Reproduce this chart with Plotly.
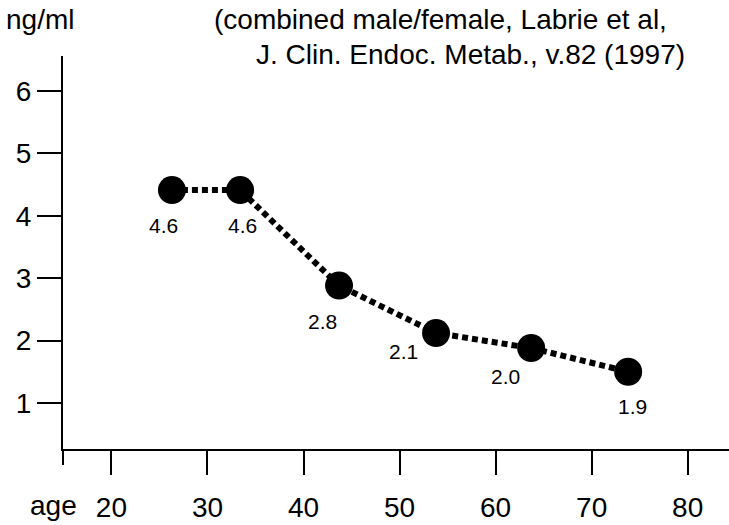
import plotly.graph_objects as go

# ---- data ----
ages = [26.3, 33.4, 43.7, 53.8, 63.7, 73.8]
levels = [4.41, 4.41, 2.88, 2.12, 1.88, 1.50]
level_labels = ["4.6", "4.6", "2.8", "2.1", "2.0", "1.9"]
x_ticks = [20, 30, 40, 50, 60, 70, 80]
y_ticks = [1, 2, 3, 4, 5, 6]
title_lines = ["(combined male/female, Labrie et al,", "J. Clin. Endoc. Metab., v.82 (1997)"]
y_unit = "ng/ml"
x_unit = "age"

# ---- styling / layout ----
FONT = "Liberation Sans, Arial, Helvetica, sans-serif"
W, H = 729, 525
L, R, T, B = 63, 0, 56, 76
PW, PH = W - L - R, H - T - B

def px_x(p):
    return (p - L) / PW

def px_y(p):
    return (H - B - p) / PH

label_offsets = [(-8, -35), (2, -35), (-17, -36), (-33, -18), (-26, -28), (4, -35)]

fig = go.Figure()
fig.add_trace(go.Scatter(
    x=ages, y=levels, mode="lines+markers",
    line=dict(color="black", width=6, dash="6px,4px"),
    marker=dict(color="black", size=28),
    hoverinfo="skip", showlegend=False,
))

annotations = []
for xa, ya, t, (dx, dy) in zip(ages, levels, level_labels, label_offsets):
    annotations.append(dict(x=xa, y=ya, xref="x", yref="y", text=t, showarrow=False,
                            xshift=dx, yshift=dy, xanchor="center", yanchor="middle",
                            font=dict(family=FONT, size=21, color="black")))

annotations.append(dict(x=px_x(4), y=px_y(19), xref="paper", yref="paper", text=y_unit,
                        showarrow=False, xanchor="left", yanchor="middle",
                        font=dict(family=FONT, size=28, color="black")))
annotations.append(dict(x=px_x(212), y=px_y(19), xref="paper", yref="paper", text=title_lines[0],
                        showarrow=False, xanchor="left", yanchor="middle",
                        font=dict(family=FONT, size=28, color="black")))
annotations.append(dict(x=px_x(687), y=px_y(54), xref="paper", yref="paper", text=title_lines[1],
                        showarrow=False, xanchor="right", yanchor="middle",
                        font=dict(family=FONT, size=28, color="black")))
annotations.append(dict(x=px_x(28), y=px_y(506), xref="paper", yref="paper", text=x_unit,
                        showarrow=False, xanchor="left", yanchor="middle",
                        font=dict(family=FONT, size=28, color="black")))

fig.update_layout(
    width=W, height=H,
    margin=dict(l=L, r=R, t=T, b=B, pad=0),
    paper_bgcolor="white", plot_bgcolor="white",
    annotations=annotations,
    shapes=[dict(type="line", xref="paper", yref="paper", x0=0, x1=0, y0=0, y1=-16 / PH,
                 line=dict(color="black", width=2))],
    xaxis=dict(range=[14.96, 84.3], tickvals=x_ticks, ticks="outside", ticklen=24, tickwidth=2,
               tickcolor="black", showline=True, linecolor="black", linewidth=2,
               showgrid=False, zeroline=False, ticklabelstandoff=8,
               tickfont=dict(family=FONT, size=28, color="black")),
    yaxis=dict(range=[0.262, 6.559], tickvals=y_ticks, ticks="outside", ticklen=24, tickwidth=2,
               tickcolor="black", showline=True, linecolor="black", linewidth=2,
               showgrid=False, zeroline=False, ticklabelstandoff=0,
               tickfont=dict(family=FONT, size=28, color="black")),
)

fig.write_html("out.html")
